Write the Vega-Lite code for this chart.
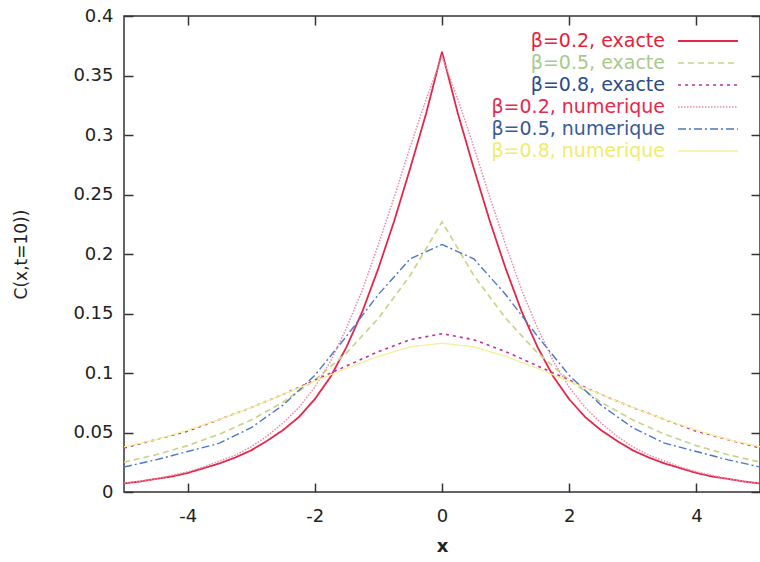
{
 "$schema": "https://vega.github.io/schema/vega-lite/v6.json",
 "width": 636, "height": 476,
 "autosize": {"type": "none"},
 "padding": {"left": 124, "top": 16, "right": 0, "bottom": 70},
 "background": "white",
 "config": {
  "view": {"stroke": "#333", "strokeWidth": 1.5},
  "font": "DejaVu Sans",
  "axis": {"domain": false, "grid": false, "tickColor": "#333", "tickWidth": 1.5, "labelColor": "#222", "titleColor": "#222", "labelFont": "DejaVu Sans", "titleFont": "DejaVu Sans", "labelFontSize": 18}
 },
 "data": {"values": [
  {"s":"β=0.2, exacte","x":-5,"C":0.0072},{"s":"β=0.2, exacte","x":-4.75,"C":0.0088},{"s":"β=0.2, exacte","x":-4.5,"C":0.011},{"s":"β=0.2, exacte","x":-4.25,"C":0.013},{"s":"β=0.2, exacte","x":-4,"C":0.016},{"s":"β=0.2, exacte","x":-3.75,"C":0.020},{"s":"β=0.2, exacte","x":-3.5,"C":0.024},{"s":"β=0.2, exacte","x":-3.25,"C":0.029},{"s":"β=0.2, exacte","x":-3,"C":0.035},{"s":"β=0.2, exacte","x":-2.75,"C":0.043},{"s":"β=0.2, exacte","x":-2.5,"C":0.052},{"s":"β=0.2, exacte","x":-2.25,"C":0.063},{"s":"β=0.2, exacte","x":-2,"C":0.078},{"s":"β=0.2, exacte","x":-1.75,"C":0.097},{"s":"β=0.2, exacte","x":-1.5,"C":0.122},{"s":"β=0.2, exacte","x":-1.25,"C":0.152},{"s":"β=0.2, exacte","x":-1,"C":0.188},{"s":"β=0.2, exacte","x":-0.75,"C":0.228},{"s":"β=0.2, exacte","x":-0.5,"C":0.272},{"s":"β=0.2, exacte","x":-0.25,"C":0.318},{"s":"β=0.2, exacte","x":0,"C":0.370},{"s":"β=0.2, exacte","x":0.25,"C":0.318},{"s":"β=0.2, exacte","x":0.5,"C":0.272},{"s":"β=0.2, exacte","x":0.75,"C":0.228},{"s":"β=0.2, exacte","x":1,"C":0.188},{"s":"β=0.2, exacte","x":1.25,"C":0.152},{"s":"β=0.2, exacte","x":1.5,"C":0.122},{"s":"β=0.2, exacte","x":1.75,"C":0.097},{"s":"β=0.2, exacte","x":2,"C":0.078},{"s":"β=0.2, exacte","x":2.25,"C":0.063},{"s":"β=0.2, exacte","x":2.5,"C":0.052},{"s":"β=0.2, exacte","x":2.75,"C":0.043},{"s":"β=0.2, exacte","x":3,"C":0.035},{"s":"β=0.2, exacte","x":3.25,"C":0.029},{"s":"β=0.2, exacte","x":3.5,"C":0.024},{"s":"β=0.2, exacte","x":3.75,"C":0.020},{"s":"β=0.2, exacte","x":4,"C":0.016},{"s":"β=0.2, exacte","x":4.25,"C":0.013},{"s":"β=0.2, exacte","x":4.5,"C":0.011},{"s":"β=0.2, exacte","x":4.75,"C":0.0088},{"s":"β=0.2, exacte","x":5,"C":0.0072},
  {"s":"β=0.5, exacte","x":-5,"C":0.0251},{"s":"β=0.5, exacte","x":-4.5,"C":0.0313},{"s":"β=0.5, exacte","x":-4,"C":0.039},{"s":"β=0.5, exacte","x":-3.5,"C":0.0486},{"s":"β=0.5, exacte","x":-3,"C":0.0605},{"s":"β=0.5, exacte","x":-2.5,"C":0.0755},{"s":"β=0.5, exacte","x":-2,"C":0.094},{"s":"β=0.5, exacte","x":-1.5,"C":0.117},{"s":"β=0.5, exacte","x":-1,"C":0.146},{"s":"β=0.5, exacte","x":-0.5,"C":0.182},{"s":"β=0.5, exacte","x":0,"C":0.227},{"s":"β=0.5, exacte","x":0.5,"C":0.182},{"s":"β=0.5, exacte","x":1,"C":0.146},{"s":"β=0.5, exacte","x":1.5,"C":0.117},{"s":"β=0.5, exacte","x":2,"C":0.094},{"s":"β=0.5, exacte","x":2.5,"C":0.0755},{"s":"β=0.5, exacte","x":3,"C":0.0605},{"s":"β=0.5, exacte","x":3.5,"C":0.0486},{"s":"β=0.5, exacte","x":4,"C":0.039},{"s":"β=0.5, exacte","x":4.5,"C":0.0313},{"s":"β=0.5, exacte","x":5,"C":0.0251},
  {"s":"β=0.8, exacte","x":-5,"C":0.037},{"s":"β=0.8, exacte","x":-4.5,"C":0.044},{"s":"β=0.8, exacte","x":-4,"C":0.051},{"s":"β=0.8, exacte","x":-3.5,"C":0.061},{"s":"β=0.8, exacte","x":-3,"C":0.071},{"s":"β=0.8, exacte","x":-2.5,"C":0.082},{"s":"β=0.8, exacte","x":-2,"C":0.094},{"s":"β=0.8, exacte","x":-1.5,"C":0.106},{"s":"β=0.8, exacte","x":-1,"C":0.118},{"s":"β=0.8, exacte","x":-0.5,"C":0.128},{"s":"β=0.8, exacte","x":0,"C":0.133},{"s":"β=0.8, exacte","x":0.5,"C":0.128},{"s":"β=0.8, exacte","x":1,"C":0.118},{"s":"β=0.8, exacte","x":1.5,"C":0.106},{"s":"β=0.8, exacte","x":2,"C":0.094},{"s":"β=0.8, exacte","x":2.5,"C":0.082},{"s":"β=0.8, exacte","x":3,"C":0.071},{"s":"β=0.8, exacte","x":3.5,"C":0.061},{"s":"β=0.8, exacte","x":4,"C":0.051},{"s":"β=0.8, exacte","x":4.5,"C":0.044},{"s":"β=0.8, exacte","x":5,"C":0.037},
  {"s":"β=0.2, numerique","x":-5,"C":0.0075},{"s":"β=0.2, numerique","x":-4.75,"C":0.009},{"s":"β=0.2, numerique","x":-4.5,"C":0.011},{"s":"β=0.2, numerique","x":-4.25,"C":0.014},{"s":"β=0.2, numerique","x":-4,"C":0.017},{"s":"β=0.2, numerique","x":-3.75,"C":0.021},{"s":"β=0.2, numerique","x":-3.5,"C":0.026},{"s":"β=0.2, numerique","x":-3.25,"C":0.031},{"s":"β=0.2, numerique","x":-3,"C":0.038},{"s":"β=0.2, numerique","x":-2.75,"C":0.047},{"s":"β=0.2, numerique","x":-2.5,"C":0.058},{"s":"β=0.2, numerique","x":-2.25,"C":0.071},{"s":"β=0.2, numerique","x":-2,"C":0.088},{"s":"β=0.2, numerique","x":-1.75,"C":0.110},{"s":"β=0.2, numerique","x":-1.5,"C":0.138},{"s":"β=0.2, numerique","x":-1.25,"C":0.170},{"s":"β=0.2, numerique","x":-1,"C":0.208},{"s":"β=0.2, numerique","x":-0.75,"C":0.248},{"s":"β=0.2, numerique","x":-0.5,"C":0.290},{"s":"β=0.2, numerique","x":-0.25,"C":0.330},{"s":"β=0.2, numerique","x":0,"C":0.366},{"s":"β=0.2, numerique","x":0.25,"C":0.330},{"s":"β=0.2, numerique","x":0.5,"C":0.290},{"s":"β=0.2, numerique","x":0.75,"C":0.248},{"s":"β=0.2, numerique","x":1,"C":0.208},{"s":"β=0.2, numerique","x":1.25,"C":0.170},{"s":"β=0.2, numerique","x":1.5,"C":0.138},{"s":"β=0.2, numerique","x":1.75,"C":0.110},{"s":"β=0.2, numerique","x":2,"C":0.088},{"s":"β=0.2, numerique","x":2.25,"C":0.071},{"s":"β=0.2, numerique","x":2.5,"C":0.058},{"s":"β=0.2, numerique","x":2.75,"C":0.047},{"s":"β=0.2, numerique","x":3,"C":0.038},{"s":"β=0.2, numerique","x":3.25,"C":0.031},{"s":"β=0.2, numerique","x":3.5,"C":0.026},{"s":"β=0.2, numerique","x":3.75,"C":0.021},{"s":"β=0.2, numerique","x":4,"C":0.017},{"s":"β=0.2, numerique","x":4.25,"C":0.014},{"s":"β=0.2, numerique","x":4.5,"C":0.011},{"s":"β=0.2, numerique","x":4.75,"C":0.009},{"s":"β=0.2, numerique","x":5,"C":0.0075},
  {"s":"β=0.5, numerique","x":-5,"C":0.021},{"s":"β=0.5, numerique","x":-4.5,"C":0.027},{"s":"β=0.5, numerique","x":-4,"C":0.034},{"s":"β=0.5, numerique","x":-3.5,"C":0.041},{"s":"β=0.5, numerique","x":-3,"C":0.054},{"s":"β=0.5, numerique","x":-2.5,"C":0.073},{"s":"β=0.5, numerique","x":-2,"C":0.098},{"s":"β=0.5, numerique","x":-1.5,"C":0.131},{"s":"β=0.5, numerique","x":-1,"C":0.166},{"s":"β=0.5, numerique","x":-0.5,"C":0.196},{"s":"β=0.5, numerique","x":0,"C":0.208},{"s":"β=0.5, numerique","x":0.5,"C":0.196},{"s":"β=0.5, numerique","x":1,"C":0.166},{"s":"β=0.5, numerique","x":1.5,"C":0.131},{"s":"β=0.5, numerique","x":2,"C":0.098},{"s":"β=0.5, numerique","x":2.5,"C":0.073},{"s":"β=0.5, numerique","x":3,"C":0.054},{"s":"β=0.5, numerique","x":3.5,"C":0.041},{"s":"β=0.5, numerique","x":4,"C":0.034},{"s":"β=0.5, numerique","x":4.5,"C":0.027},{"s":"β=0.5, numerique","x":5,"C":0.021},
  {"s":"β=0.8, numerique","x":-5,"C":0.038},{"s":"β=0.8, numerique","x":-4.5,"C":0.044},{"s":"β=0.8, numerique","x":-4,"C":0.052},{"s":"β=0.8, numerique","x":-3.5,"C":0.061},{"s":"β=0.8, numerique","x":-3,"C":0.071},{"s":"β=0.8, numerique","x":-2.5,"C":0.082},{"s":"β=0.8, numerique","x":-2,"C":0.093},{"s":"β=0.8, numerique","x":-1.5,"C":0.104},{"s":"β=0.8, numerique","x":-1,"C":0.114},{"s":"β=0.8, numerique","x":-0.5,"C":0.122},{"s":"β=0.8, numerique","x":0,"C":0.125},{"s":"β=0.8, numerique","x":0.5,"C":0.122},{"s":"β=0.8, numerique","x":1,"C":0.114},{"s":"β=0.8, numerique","x":1.5,"C":0.104},{"s":"β=0.8, numerique","x":2,"C":0.093},{"s":"β=0.8, numerique","x":2.5,"C":0.082},{"s":"β=0.8, numerique","x":3,"C":0.071},{"s":"β=0.8, numerique","x":3.5,"C":0.061},{"s":"β=0.8, numerique","x":4,"C":0.052},{"s":"β=0.8, numerique","x":4.5,"C":0.044},{"s":"β=0.8, numerique","x":5,"C":0.038}
 ]},
 "layer": [
  {
   "mark": {"type": "line", "clip": true},
   "encoding": {
    "x": {"field": "x", "type": "quantitative", "scale": {"domain": [-5, 5], "nice": false},
          "axis": {"orient": "bottom", "values": [-4, -2, 0, 2, 4], "tickSize": -9, "labelPadding": 24, "labelExpr": "toString(datum.value)", "title": "x", "titleFontSize": 18, "titleFontWeight": "bold", "titlePadding": 12}},
    "y": {"field": "C", "type": "quantitative", "scale": {"domain": [0, 0.4], "nice": false},
          "axis": {"orient": "left", "values": [0, 0.05, 0.1, 0.15, 0.2, 0.25, 0.3, 0.35, 0.4], "format": ".2~f", "tickSize": -9, "labelPadding": 20, "title": "C(x,t=10))", "titleFontSize": 17, "titleFontWeight": "normal", "titlePadding": 42}},
    "color": {"field": "s", "type": "nominal",
      "scale": {"domain": ["β=0.2, exacte", "β=0.5, exacte", "β=0.8, exacte", "β=0.2, numerique", "β=0.5, numerique", "β=0.8, numerique"],
                "range": ["#e4264a", "#c9d48c", "#c0309a", "#e88aa8", "#4a78c8", "#f4ef98"]},
      "legend": {"title": null, "orient": "none", "legendX": 553, "legendY": 14, "padding": 0,
                 "symbolType": "M-1,0H5", "symbolSize": 400, "symbolOpacity": 1, "rowPadding": 1,
                 "labelAlign": "right", "labelOffset": -34, "labelFontSize": 19, "labelFont": "DejaVu Sans", "labelLimit": 400,
                 "encode": {"labels": {"update": {"fill": {"signal": "['#e8203c','#a9c98f','#2a4c8c','#e8284c','#3a5a96','#efeb6e'][indexof(['β=0.2, exacte','β=0.5, exacte','β=0.8, exacte','β=0.2, numerique','β=0.5, numerique','β=0.8, numerique'], datum.value)]"}}}}}},
    "strokeDash": {"field": "s", "type": "nominal",
      "scale": {"domain": ["β=0.2, exacte", "β=0.5, exacte", "β=0.8, exacte", "β=0.2, numerique", "β=0.5, numerique", "β=0.8, numerique"],
                "range": [[1, 0], [6, 4], [3, 4], [1.5, 1.5], [8, 3, 2, 3], [1, 0]]}},
    "strokeWidth": {"field": "s", "type": "nominal",
      "scale": {"domain": ["β=0.2, exacte", "β=0.5, exacte", "β=0.8, exacte", "β=0.2, numerique", "β=0.5, numerique", "β=0.8, numerique"],
                "range": [1.8, 1.3, 2.6, 1.6, 1.3, 1.3]}}
   }
  },
  {
   "transform": [{"filter": "datum.C < 0"}],
   "mark": {"type": "point"},
   "encoding": {
    "x": {"field": "x", "type": "quantitative", "axis": {"orient": "top", "values": [-4, -2, 0, 2, 4], "tickSize": -9, "labels": false, "title": null}},
    "y": {"field": "C", "type": "quantitative", "axis": {"orient": "right", "values": [0, 0.05, 0.1, 0.15, 0.2, 0.25, 0.3, 0.35, 0.4], "tickSize": -9, "labels": false, "title": null}}
   }
  }
 ],
 "resolve": {"axis": {"x": "independent", "y": "independent"}}
}
